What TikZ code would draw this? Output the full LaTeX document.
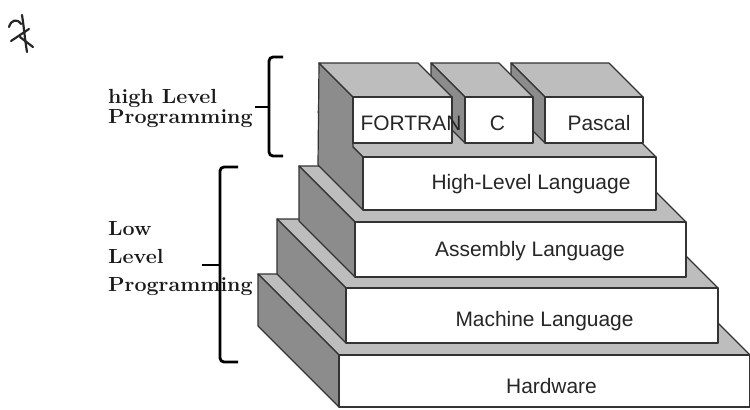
\documentclass[tikz,border=0pt]{standalone}
\usepackage{fontspec}
\usepackage{graphicx}
\newfontfamily\langfont{Liberation Sans}
\definecolor{topgray}{HTML}{BDBDBD}
\definecolor{sidegray}{HTML}{8C8C8C}
\definecolor{edge}{HTML}{333333}
\tikzset{
  topface/.style={fill=topgray, draw=edge, line width=1.2bp, line join=round},
  sideface/.style={fill=sidegray, draw=edge, line width=1.2bp, line join=round},
  frontface/.style={fill=white, draw=edge, line width=1.2bp, line join=round},
  lang/.style={font=\langfont\fontsize{21}{24}\selectfont, text=black!85, inner sep=0pt, anchor=base},
  side label/.style={font=\bfseries\fontsize{20.5}{24}\selectfont, text=black!90, inner sep=0pt, anchor=base west},
  bracket/.style={draw=black, line width=2.8bp, rounded corners=4bp},
  pen/.style={draw=black!85, line width=2.2bp, line cap=round, line join=round}
}
% one slab of the stack: front rectangle (x1,y1)-(x2,y2), receding by d to the upper left
\newcommand\slabtop[5]{\filldraw[topface] (#1,#2) -- (#3,#2) -- (#3-#5,#2-#5) -- (#1-#5,#2-#5) -- cycle;}
\newcommand\slabside[5]{\filldraw[sideface] (#1,#2) -- (#1-#5,#2-#5) -- (#1-#5,#4-#5) -- (#1,#4) -- cycle;}
\newcommand\slabfront[5]{\filldraw[frontface] (#1,#2) rectangle (#3,#4);}
\newcommand\slab[5]{\slabtop{#1}{#2}{#3}{#4}{#5}\slabside{#1}{#2}{#3}{#4}{#5}\slabfront{#1}{#2}{#3}{#4}{#5}}
\newcommand\stretchedlabel[1]{\scalebox{1.05}[1]{#1}}
\begin{document}
\begin{tikzpicture}[x=1bp,y=-1bp]
\useasboundingbox (0,0) rectangle (750,409);

% hand-drawn mark in the corner
\draw[pen] (9,27) .. controls (11,20) and (17,18) .. (21,24);
\draw[pen] (22,15) .. controls (24,28) and (25,40) .. (27,52);
\draw[pen] (11,41) -- (29,29);
\draw[pen] (20,37) -- (33,47);

% the stack, from the bottom up
\slab{339}{355}{750}{407}{81}
\slab{346}{288}{718}{343}{69}
\slab{355}{222}{686}{277}{56}
% high-level slab: its side runs up into the FORTRAN block as one face
\slabtop{363}{157}{656}{210}{45}
\filldraw[sideface] (319,63) -- (353,97) -- (353,147) -- (363,157) -- (363,210) -- (318,165) -- cycle;
\slabfront{363}{157}{656}{210}{45}
% language blocks on top, back to front
\slab{545}{97}{643}{143}{34}
\slab{465}{97}{533}{143}{34}
\slabtop{353}{97}{452}{143}{34}
\slabfront{353}{97}{452}{143}{34}

% layer names
\node[lang] (hardware) at (551.5,393) {Hardware};
\node[lang] (machine) at (544.5,326) {Machine Language};
\node[lang] (assembly) at (530,256) {Assembly Language};
\node[lang] (highlevel) at (531,189) {High-Level Language};
\node[lang] (fortran) at (411,130) {FORTRAN};
\node[lang] (clang) at (497.5,130) {C};
\node[lang] (pascal) at (599,130) {Pascal};

% group labels
\node[side label] (hl1) at (108,103) {\stretchedlabel{high Level}};
\node[side label] (hl2) at (108,123) {\stretchedlabel{Programming}};
\node[side label] (ll1) at (108,235) {\stretchedlabel{Low}};
\node[side label] (ll2) at (108,263) {\stretchedlabel{Level}};
\node[side label] (ll3) at (108,291) {\stretchedlabel{Programming}};

% brackets
\draw[bracket] (283,57) -- (269,57) -- (269,156) -- (283,156);
\draw[bracket] (255,107) -- (269,107);
\draw[bracket] (238,167) -- (220,167) -- (220,362) -- (238,362);
\draw[bracket] (202,265) -- (220,265);
\end{tikzpicture}
\end{document}
